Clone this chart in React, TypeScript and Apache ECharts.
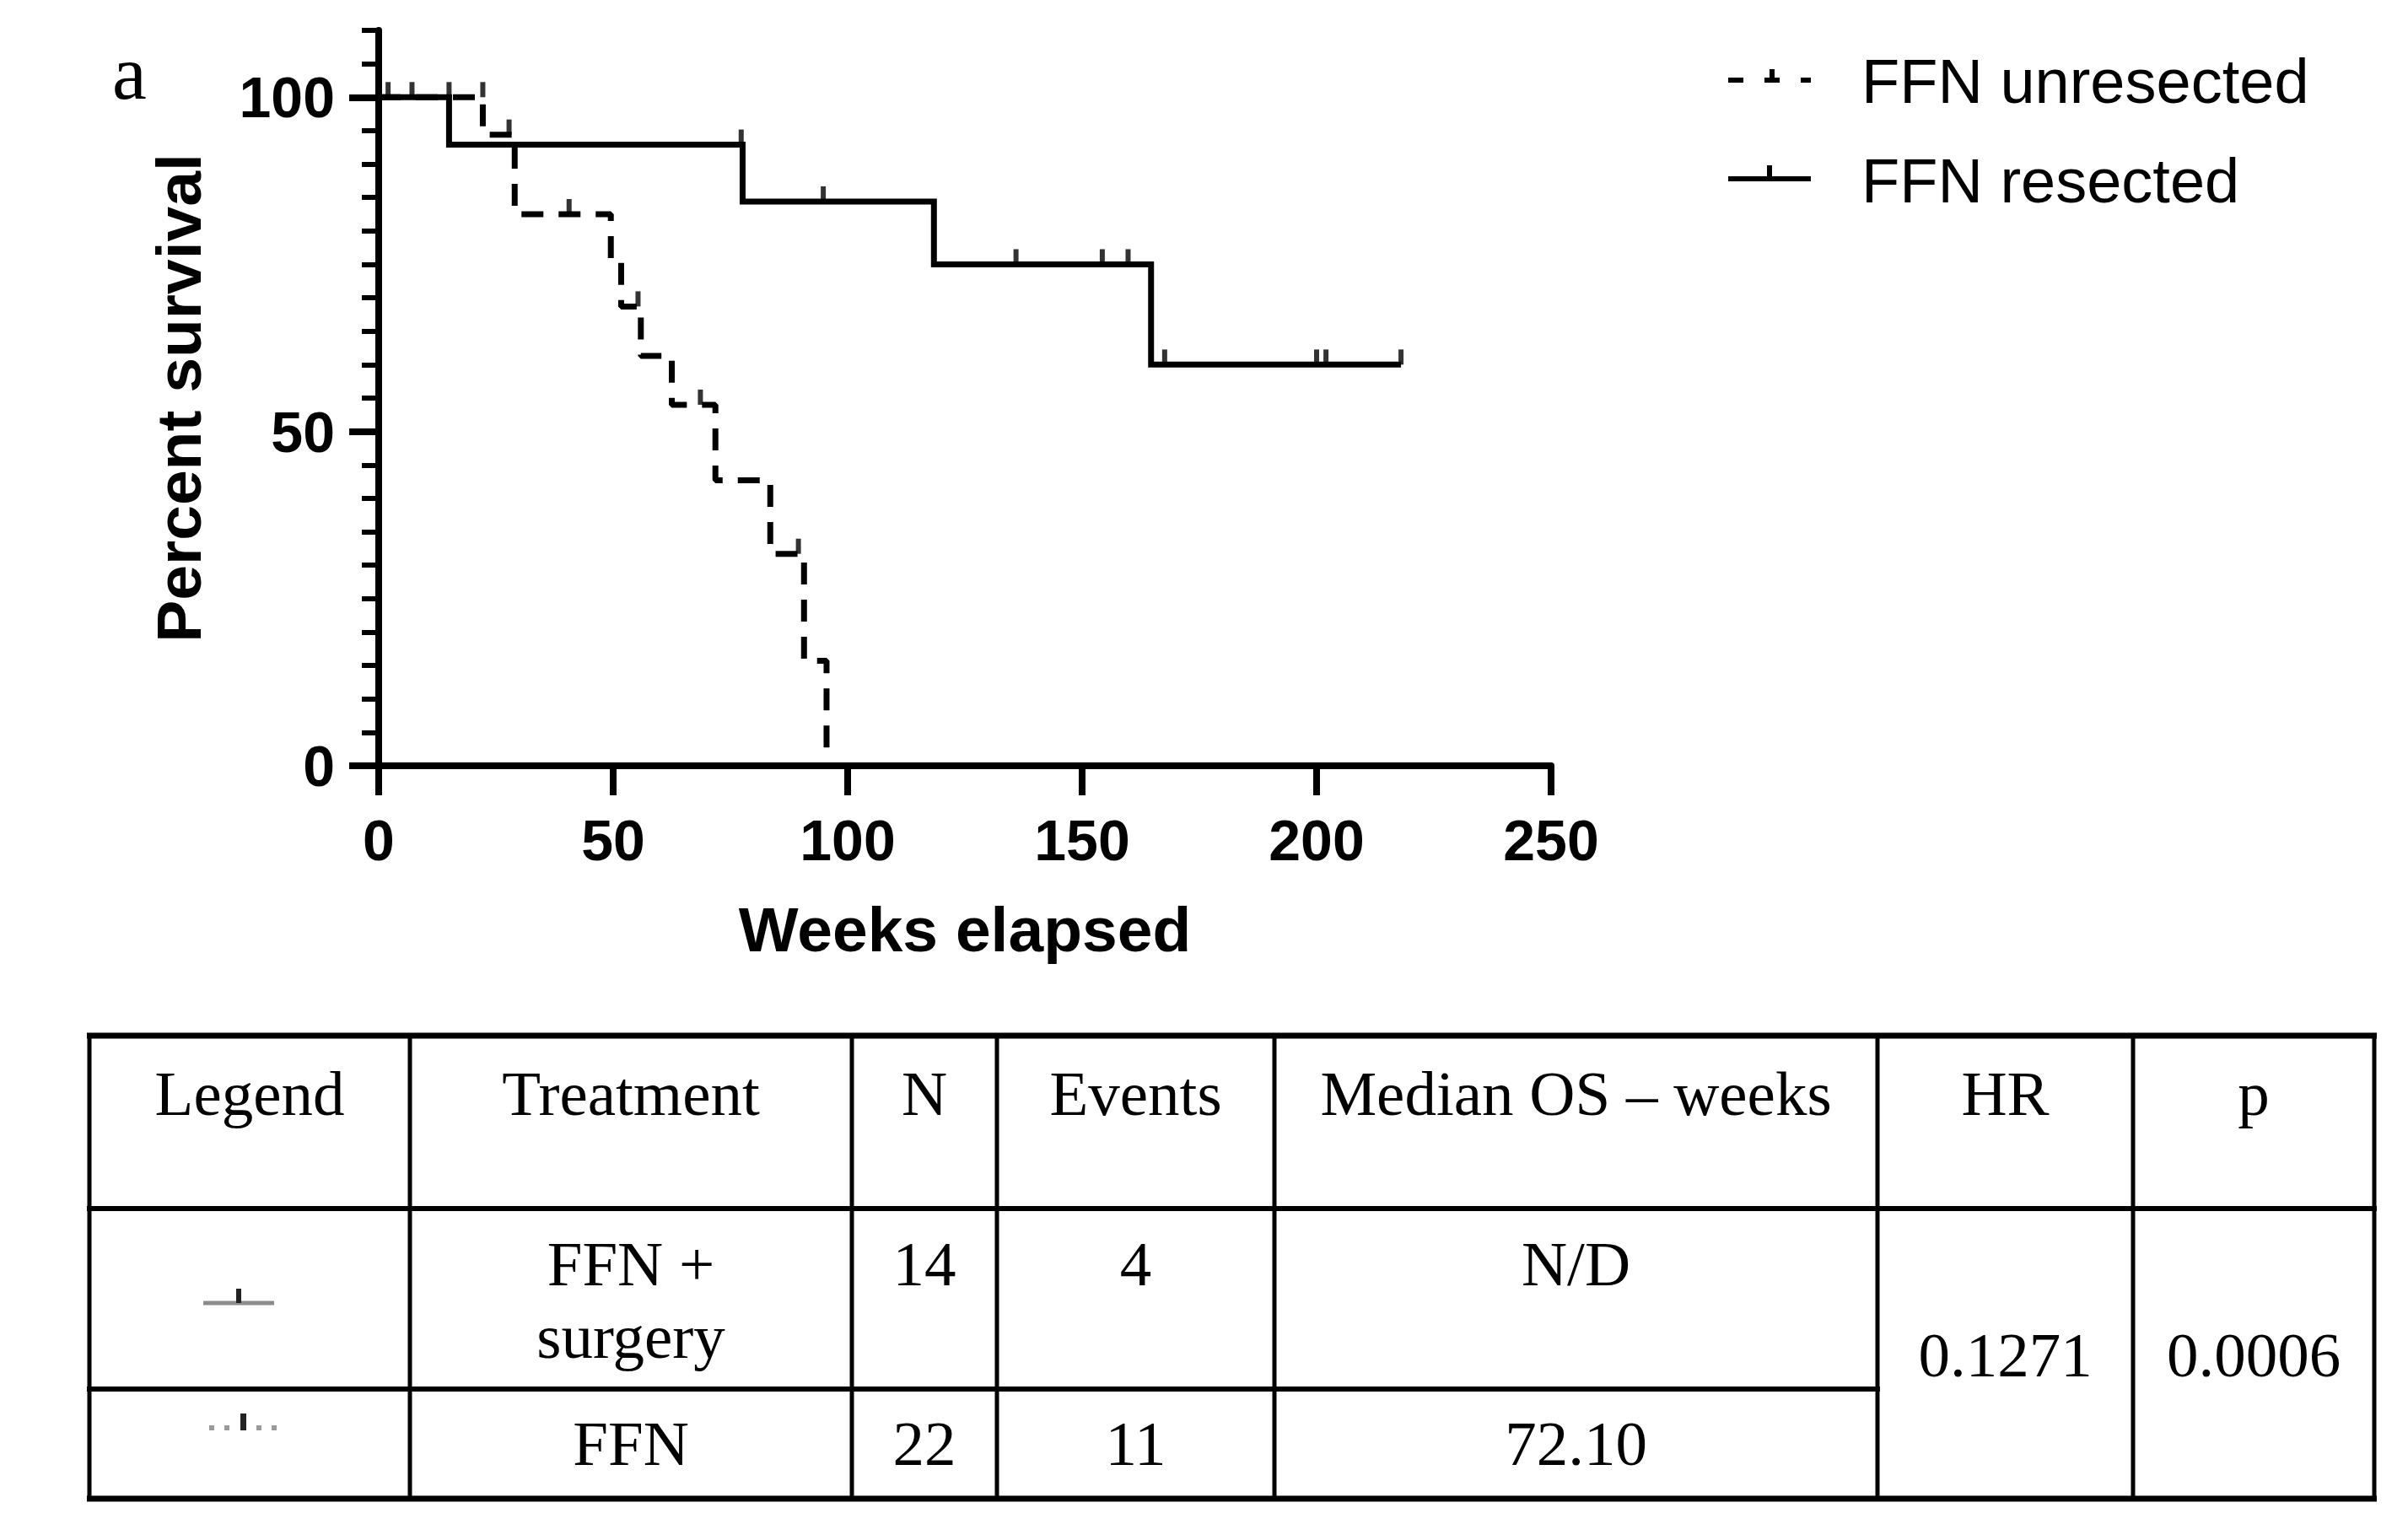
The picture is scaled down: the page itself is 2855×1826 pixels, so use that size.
import React, { useEffect, useRef } from 'react';
import * as echarts from 'echarts';

const W = 2855;
const H = 1826;

// ---- Kaplan–Meier data (weeks, percent survival) ----
const weeksResected = [0, 15.0, 77.6, 118.4, 164.7, 218.0];
const survivalResected = [100, 92.9, 84.4, 75.0, 60.0, 60.0];
const censorResectedWeeks = [2.0, 7.1, 15.0, 77.3, 94.8, 135.9, 154.3, 159.8, 167.6, 200.0, 202.0, 218.0];
const censorResectedSurvival = [100, 100, 100, 92.9, 84.4, 75.0, 75.0, 75.0, 60.0, 60.0, 60.0, 60.0];

const weeksUnresected = [0, 22.2, 29.0, 49.5, 51.7, 55.9, 62.5, 71.8, 83.5, 90.7, 95.5];
const survivalUnresected = [100, 94.4, 82.5, 75.5, 68.7, 61.3, 54.0, 42.7, 31.7, 15.7, 0];
const censorUnresectedWeeks = [22.2, 27.8, 40.6, 55.3, 68.6, 89.5];
const censorUnresectedSurvival = [100, 94.4, 82.5, 68.7, 54.0, 31.7];

// ---- axes ----
const xTickLabels = [0, 50, 100, 150, 200, 250];
const yMajorTicks = [0, 50, 100];
const seriesNames = ['FFN unresected', 'FFN resected'];

// ---- table ----
const tableHeaders = ['Legend', 'Treatment', 'N', 'Events', 'Median OS \u2013 weeks', 'HR', 'p'];
const tableTreatments = ['FFN +\nsurgery', 'FFN'];
const tableN = ['14', '22'];
const tableEvents = ['4', '11'];
const tableMedianOS = ['N/D', '72.10'];
const tableHR = '0.1271';
const tableP = '0.0006';

const zip = (a: number[], b: number[]) => a.map((v, i) => [v, b[i]]);

export default function App() {
  const ref = useRef<HTMLDivElement>(null);

  useEffect(() => {
    document.body.style.margin = '0';
    const chart = echarts.init(ref.current!, null, { renderer: 'svg', width: W, height: H });

    const sans = 'Liberation Sans, Arial, sans-serif';
    const serif = 'Liberation Serif, Times New Roman, serif';

    // table geometry
    const colX = [106, 486, 1010, 1182, 1511, 2226, 2529, 2815];
    const rowY = [1228, 1433, 1647, 1777];
    const cx = (i: number) => (colX[i] + colX[i + 1]) / 2;
    const tFont = { fontFamily: serif, fontSize: 75, fill: '#000' };

    const tableEls: any[] = [];
    tableEls.push({ type: 'line', shape: { x1: colX[0] - 3, y1: rowY[0], x2: colX[7] + 3, y2: rowY[0] }, style: { stroke: '#000', lineWidth: 7 } });
    tableEls.push({ type: 'line', shape: { x1: colX[0] - 3, y1: rowY[1], x2: colX[7] + 3, y2: rowY[1] }, style: { stroke: '#000', lineWidth: 6 } });
    tableEls.push({ type: 'line', shape: { x1: colX[0] - 3, y1: rowY[2], x2: colX[5] + 3, y2: rowY[2] }, style: { stroke: '#000', lineWidth: 6 } });
    tableEls.push({ type: 'line', shape: { x1: colX[0] - 3, y1: rowY[3], x2: colX[7] + 3, y2: rowY[3] }, style: { stroke: '#000', lineWidth: 7 } });
    colX.forEach((x) => {
      tableEls.push({ type: 'line', shape: { x1: x, y1: rowY[0], x2: x, y2: rowY[3] }, style: { stroke: '#000', lineWidth: 5 } });
    });
    tableHeaders.forEach((h, i) => {
      tableEls.push({ type: 'text', x: cx(i), y: 1296, style: { ...tFont, text: h, align: 'center', verticalAlign: 'middle' } });
    });
    tableEls.push({ type: 'text', x: cx(1), y: 1541, style: { ...tFont, text: tableTreatments[0], lineHeight: 86, align: 'center', verticalAlign: 'middle' } });
    tableEls.push({ type: 'text', x: cx(2), y: 1498, style: { ...tFont, text: tableN[0], align: 'center', verticalAlign: 'middle' } });
    tableEls.push({ type: 'text', x: cx(3), y: 1498, style: { ...tFont, text: tableEvents[0], align: 'center', verticalAlign: 'middle' } });
    tableEls.push({ type: 'text', x: cx(4), y: 1498, style: { ...tFont, text: tableMedianOS[0], align: 'center', verticalAlign: 'middle' } });
    tableEls.push({ type: 'text', x: cx(1), y: 1711, style: { ...tFont, text: tableTreatments[1], align: 'center', verticalAlign: 'middle' } });
    tableEls.push({ type: 'text', x: cx(2), y: 1711, style: { ...tFont, text: tableN[1], align: 'center', verticalAlign: 'middle' } });
    tableEls.push({ type: 'text', x: cx(3), y: 1711, style: { ...tFont, text: tableEvents[1], align: 'center', verticalAlign: 'middle' } });
    tableEls.push({ type: 'text', x: cx(4), y: 1711, style: { ...tFont, text: tableMedianOS[1], align: 'center', verticalAlign: 'middle' } });
    tableEls.push({ type: 'text', x: cx(5), y: 1606, style: { ...tFont, text: tableHR, align: 'center', verticalAlign: 'middle' } });
    tableEls.push({ type: 'text', x: cx(6), y: 1606, style: { ...tFont, text: tableP, align: 'center', verticalAlign: 'middle' } });
    // legend icons in table
    tableEls.push({ type: 'line', shape: { x1: 241, y1: 1545, x2: 325, y2: 1545 }, style: { stroke: '#8c8c8c', lineWidth: 5 } });
    tableEls.push({ type: 'rect', shape: { x: 280, y: 1528, width: 6, height: 17 }, style: { fill: '#222' } });
    [251, 269, 307, 325].forEach((x) => {
      tableEls.push({ type: 'rect', shape: { x: x - 3, y: 1690, width: 6, height: 6 }, style: { fill: '#9a9a9a' } });
    });
    tableEls.push({ type: 'rect', shape: { x: 285, y: 1676, width: 7, height: 20 }, style: { fill: '#222' } });

    // chart legend (top right) and panel letter
    const legendEls: any[] = [
      { type: 'line', shape: { x1: 2049, y1: 95, x2: 2147, y2: 95 }, style: { stroke: '#000', lineWidth: 6, lineDash: [18, 25] } },
      { type: 'rect', shape: { x: 2098, y: 82, width: 6, height: 14 }, style: { fill: '#000' } },
      { type: 'text', x: 2207, y: 96, style: { text: seriesNames[0], fontFamily: sans, fontSize: 74, fill: '#000', align: 'left', verticalAlign: 'middle' } },
      { type: 'line', shape: { x1: 2049, y1: 212, x2: 2147, y2: 212 }, style: { stroke: '#000', lineWidth: 6 } },
      { type: 'rect', shape: { x: 2095, y: 196, width: 6, height: 16 }, style: { fill: '#000' } },
      { type: 'text', x: 2207, y: 214, style: { text: seriesNames[1], fontFamily: sans, fontSize: 74, fill: '#000', align: 'left', verticalAlign: 'middle' } },
      { type: 'text', x: 133, y: 86, style: { text: 'a', fontFamily: serif, fontSize: 92, fill: '#000', align: 'left', verticalAlign: 'middle' } },
    ];

    const tickLabel = { fontFamily: sans, fontWeight: 'bold' as const, fontSize: 68, color: '#000' };
    const axisName = { fontFamily: sans, fontWeight: 'bold' as const, fontSize: 75, color: '#000' };

    const option: any = {
      animation: false,
      backgroundColor: '#fff',
      grid: { left: 449, top: 36, width: 1390, height: 872, containLabel: false, outerBoundsMode: 'none' },
      xAxis: {
        type: 'value',
        min: xTickLabels[0],
        max: xTickLabels[xTickLabels.length - 1],
        interval: 50,
        name: 'Weeks elapsed',
        nameLocation: 'middle',
        nameGap: 156,
        nameTextStyle: axisName,
        axisLine: { show: true, onZero: false, lineStyle: { color: '#000', width: 8 } },
        axisTick: { show: true, length: 35, lineStyle: { color: '#000', width: 8 } },
        axisLabel: { ...tickLabel, margin: 54 },
        splitLine: { show: false },
      },
      yAxis: [
        {
          type: 'value',
          min: 0,
          max: 110,
          interval: 5,
          name: 'Percent survival',
          nameLocation: 'middle',
          nameGap: 200,
          nameTextStyle: axisName,
          axisLine: { show: true, lineStyle: { color: '#000', width: 8 } },
          axisTick: { show: true, length: 20, lineStyle: { color: '#000', width: 6 } },
          axisLabel: {
            ...tickLabel,
            margin: 52,
            formatter: (v: number) => (yMajorTicks.indexOf(v) >= 0 ? String(v) : ''),
          },
          splitLine: { show: false },
        },
        {
          type: 'value',
          min: 0,
          max: 110,
          position: 'left',
          axisLine: { show: false },
          axisTick: { show: true, length: 35, customValues: yMajorTicks, lineStyle: { color: '#000', width: 8 } },
          axisLabel: { show: false },
          splitLine: { show: false },
        },
      ],
      series: [
        {
          name: seriesNames[1],
          type: 'line',
          step: 'end',
          data: zip(weeksResected, survivalResected),
          showSymbol: false,
          lineStyle: { color: '#000', width: 7, cap: 'butt', join: 'miter' },
          silent: true,
          z: 3,
        },
        {
          name: seriesNames[0],
          type: 'line',
          step: 'end',
          data: zip(weeksUnresected, survivalUnresected),
          showSymbol: false,
          lineStyle: { color: '#000', width: 7, type: [26, 18], cap: 'butt' },
          silent: true,
          z: 3,
        },
        {
          type: 'scatter',
          data: zip(censorResectedWeeks, censorResectedSurvival),
          symbol: 'rect',
          symbolSize: [6, 18],
          symbolOffset: [0, '-50%'],
          itemStyle: { color: '#000' },
          silent: true,
          z: 4,
        },
        {
          type: 'scatter',
          data: zip(censorUnresectedWeeks, censorUnresectedSurvival),
          symbol: 'rect',
          symbolSize: [6, 18],
          symbolOffset: [0, '-50%'],
          itemStyle: { color: '#000' },
          silent: true,
          z: 4,
        },
      ],
      graphic: [...legendEls, ...tableEls],
    };

    chart.setOption(option);
    return () => chart.dispose();
  }, []);

  return <div ref={ref} style={{ position: 'absolute', left: 0, top: 0, width: W, height: H, background: '#fff' }} />;
}
